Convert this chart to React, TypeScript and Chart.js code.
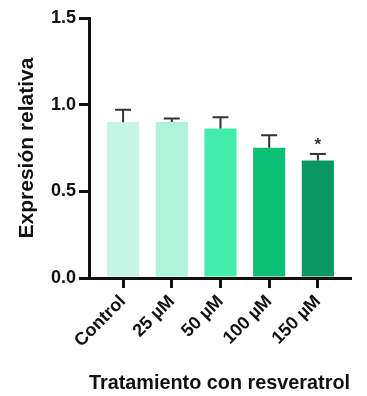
import React, { useEffect, useRef } from "react";
import { Chart, registerables } from "chart.js";

Chart.register(...registerables);

const categories = ["Control", "25 µM", "50 µM", "100 µM", "150 µM"];
const means = [0.898, 0.9, 0.862, 0.751, 0.678];
const errorsUp = [0.073, 0.02, 0.065, 0.073, 0.037];
const significance = ["", "", "", "", "*"];
const barColors = ["#C6F5E5", "#AEF3D9", "#43EDAC", "#0BBF74", "#0A9862"];
const yTicks = [0, 0.5, 1.0, 1.5];

const FONT = "'Liberation Sans', Arial, Helvetica, sans-serif";

const errorBarPlugin = {
  id: "errorBars",
  afterDatasetsDraw(chart: any) {
    const { ctx, scales } = chart;
    const xs = scales.x;
    const ys = scales.y;
    ctx.save();
    ctx.strokeStyle = "#333333";
    ctx.lineWidth = 2;
    ctx.lineCap = "butt";
    means.forEach((m, i) => {
      const x = xs.getPixelForValue(i);
      const yb = ys.getPixelForValue(m);
      const yt = ys.getPixelForValue(m + errorsUp[i]);
      ctx.beginPath();
      ctx.moveTo(x, yb);
      ctx.lineTo(x, yt);
      ctx.moveTo(x - 8, yt);
      ctx.lineTo(x + 8, yt);
      ctx.stroke();
      if (significance[i]) {
        ctx.fillStyle = "#333333";
        ctx.font = `bold 17px ${FONT}`;
        ctx.textAlign = "center";
        ctx.textBaseline = "middle";
        ctx.fillText(significance[i], x, yt - 9);
      }
    });
    ctx.restore();
  },
};

export default function App() {
  const ref = useRef<HTMLCanvasElement | null>(null);
  useEffect(() => {
    document.body.style.margin = "0";
    const canvas = ref.current;
    if (!canvas) return;
    const chart = new Chart(canvas, {
      type: "bar",
      data: {
        datasets: [
          {
            data: means.map((m, i) => ({ x: i, y: m })),
            backgroundColor: barColors,
            borderWidth: 0,
            barPercentage: 0.66,
            categoryPercentage: 1,
          },
        ],
      },
      options: {
        animation: false,
        responsive: false,
        maintainAspectRatio: false,
        layout: { padding: { top: 18, right: 17, left: 0, bottom: 0 } },
        plugins: {
          legend: { display: false },
          tooltip: { enabled: false },
        },
        scales: {
          x: {
            type: "linear",
            min: -0.7,
            max: 4.66,
            offset: false,
            afterBuildTicks: (axis: any) => {
              axis.ticks = categories.map((_, i) => ({ value: i }));
            },
            afterFit: (scale: any) => {
              scale.height = 118;
            },
            ticks: {
              autoSkip: false,
              minRotation: 45,
              maxRotation: 45,
              padding: 3,
              color: "#111111",
              font: { family: FONT, size: 18, weight: "bold" },
              callback: (v: any) => categories[Math.round(Number(v))] ?? "",
            },
            grid: {
              display: true,
              offset: false,
              drawOnChartArea: false,
              drawTicks: true,
              tickLength: 10,
              color: "#111111",
              lineWidth: 3,
            },
            border: { display: true, color: "#111111", width: 3 },
            title: {
              display: true,
              text: "Tratamiento con resveratrol",
              color: "#111111",
              font: { family: FONT, size: 21, weight: "bold" },
              padding: { top: 0, bottom: 0 },
            },
          },
          y: {
            type: "linear",
            min: 0,
            max: 1.5,
            afterBuildTicks: (axis: any) => {
              axis.ticks = yTicks.map((v) => ({ value: v }));
            },
            afterFit: (scale: any) => {
              scale.width = 89;
            },
            ticks: {
              padding: 3,
              color: "#111111",
              font: { family: FONT, size: 18, weight: "bold" },
              callback: (v: any) => Number(v).toFixed(1),
            },
            grid: {
              display: true,
              drawOnChartArea: false,
              drawTicks: true,
              tickLength: 10,
              color: "#111111",
              lineWidth: 3,
            },
            border: { display: true, color: "#111111", width: 3 },
            title: {
              display: true,
              text: "Expresión relativa",
              color: "#111111",
              font: { family: FONT, size: 21, weight: "bold" },
              padding: { top: 15, bottom: 0 },
            },
          },
        },
      },
      plugins: [errorBarPlugin],
    } as any);
    return () => chart.destroy();
  }, []);
  return (
    <div style={{ width: 367, height: 396, background: "#ffffff" }}>
      <canvas ref={ref} width={367} height={396} style={{ display: "block" }} />
    </div>
  );
}
